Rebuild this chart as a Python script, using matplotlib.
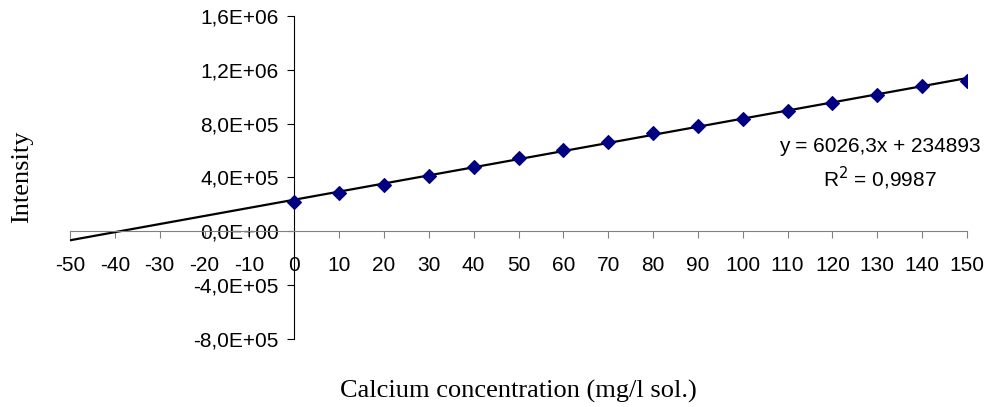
import numpy as np
import matplotlib
matplotlib.use("Agg")
import matplotlib.pyplot as plt
from matplotlib.ticker import FuncFormatter, MultipleLocator

plt.rcParams['axes.unicode_minus'] = False

# calibration standards
conc = [0, 10, 20, 30, 40, 50, 60, 70, 80, 90, 100, 110, 120, 130, 140, 150]
intensity = [220e3, 285e3, 345e3, 410e3, 478e3, 548e3, 605e3, 665e3,
             730e3, 785e3, 835e3, 893e3, 950e3, 1015e3, 1080e3, 1120e3]

slope, intercept = 6026.3, 234893
r2 = 0.9987
x_range = [-50, 150]

fig = plt.figure(figsize=(9.88, 4.07), dpi=100)
ax = fig.add_axes([70/988, 1-339/407, (967-70)/988, (339-16)/407])

xs = np.array(x_range)
ax.plot(xs, slope*xs + intercept, color='black', lw=1.6, zorder=2)
ax.plot(conc, intensity, ls='none', marker='D', ms=7.2, mew=0.8,
        color='#000080', zorder=3)

ax.set_xlim(*x_range)
ax.set_ylim(-8e5, 1.6e6)
ax.xaxis.set_major_locator(MultipleLocator(10))
ax.yaxis.set_major_locator(MultipleLocator(4e5))

def sci(v, pos):
    return f"{v:.1E}".replace('.', ',')
ax.yaxis.set_major_formatter(FuncFormatter(sci))

for s in ['top', 'right']:
    ax.spines[s].set_visible(False)
ax.spines['left'].set_position(('data', 0))
ax.spines['bottom'].set_position(('data', 0))
ax.spines['left'].set_color('black')
ax.spines['bottom'].set_color('#808080')
ax.tick_params(axis='x', direction='out', length=5, pad=13, color='#808080',
               labelsize=15)
ax.tick_params(axis='y', direction='out', length=5, pad=6, color='black',
               labelsize=15)
for lab in ax.get_xticklabels() + ax.get_yticklabels():
    lab.set_fontfamily('Liberation Sans')

fig.text(518/988, 1-398/407, 'Calcium concentration (mg/l sol.)',
         family='Liberation Serif', fontsize=19, ha='center', va='baseline')
fig.text(22/988, 1-177/407, 'Intensity', family='Liberation Serif',
         fontsize=19, rotation=90, ha='center', va='center')

eq = f"y = {slope:.1f}x + {intercept}".replace('.', ',')
fig.text(880/988, 1-146/407, eq, family='Liberation Sans', fontsize=15,
         ha='center', va='center')
fig.text(880/988, 1-178/407, f"R$^2$ = {r2}".replace('.', ','),
         family='Liberation Sans', fontsize=15, ha='center', va='center')

fig.savefig('out.png', dpi=100)
